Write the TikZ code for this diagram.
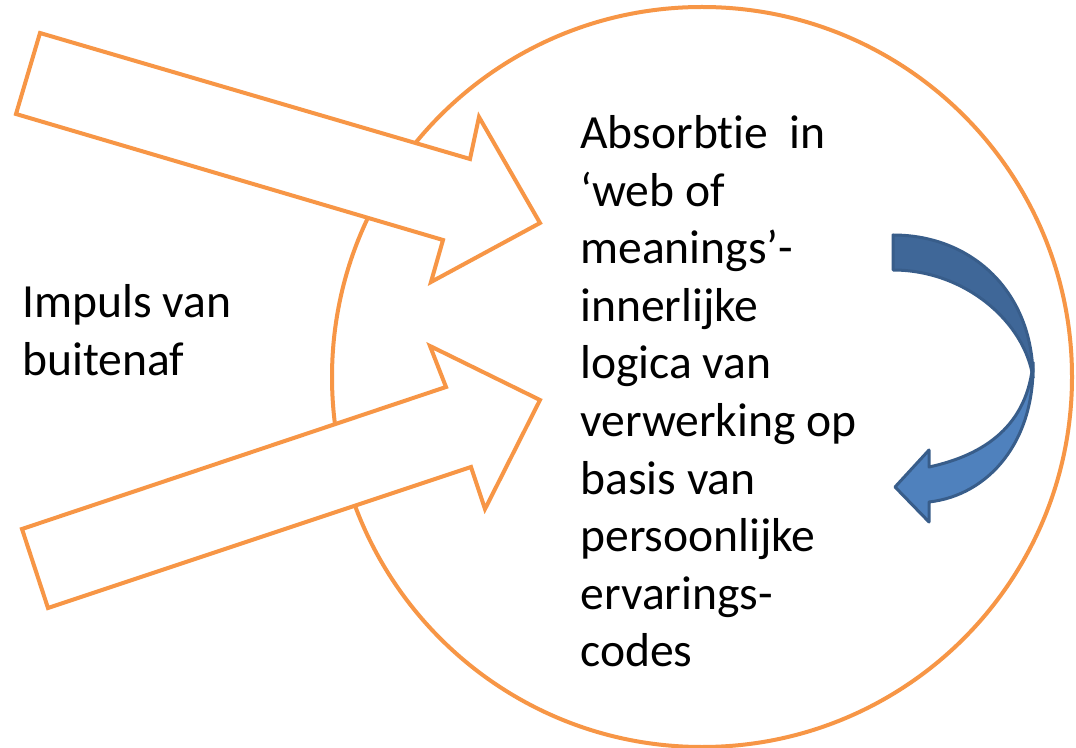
\documentclass[tikz,border=0pt]{standalone}
\usepackage{fontspec}
\setmainfont{Carlito}[Ligatures=NoCommon]
\definecolor{kader}{HTML}{F79646}
\definecolor{pijllicht}{HTML}{4F81BD}
\definecolor{pijldonker}{HTML}{3F6798}
\definecolor{pijlrand}{HTML}{385D8A}
\tikzset{
  blokpijl/.style={draw=kader,line width=2pt,fill=white,line join=miter},
  draaipijl/.style={draw=pijlrand,line width=1.5pt,line join=round},
  tekst/.style={align=left,anchor=north west,inner sep=0pt,font=\fontsize{23.8}{28.8}\selectfont}
}
\begin{document}
\begin{tikzpicture}[x=0.5pt,y=-0.5pt]
\useasboundingbox[fill=white] (0,0) rectangle (1076,748);
%circle
\draw[kader,line width=2pt,fill=white] (702,377) circle (370);
%block arrows
\draw[blokpijl] (40,33)--(470,159)--(479,117)--(540,223)--(431,282)--(443,240)--(16,114)--cycle;
\draw[blokpijl] (22,529)--(446,387)--(430,346)--(540,400)--(485,509)--(471,467)--(48,608)--cycle;
%curved arrow
\draw[draaipijl,fill=pijllicht] (1033,362) .. controls (1035,440) and (990,495) .. (929,502)
  --(929,522)--(895,487)--(929,450)--(929,467) .. controls (985,455) and (1028,425) .. (1033,362);
\draw[draaipijl,fill=pijldonker] (893,235) .. controls (972,235) and (1033,292) .. (1033,378)
  .. controls (1025,322) and (965,270) .. (893,270)--cycle;
%texts
\node[tekst] (impuls) at (22,284) {Impuls van\\buitenaf};
\node[tekst] (absorbtie) at (580,115) {Absorbtie\ \ in\\‘web of\\meanings’-\\innerlijke\\logica van\\verwerking op\\basis van\\persoonlijke\\ervarings-\\codes};
\end{tikzpicture}
\end{document}
